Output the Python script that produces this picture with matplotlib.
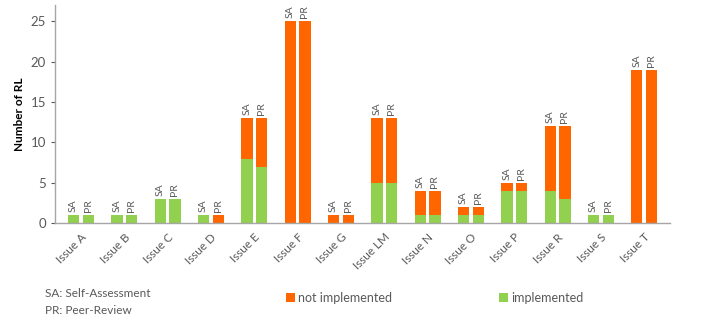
import numpy as np
import matplotlib.pyplot as plt

plt.rcParams['font.family'] = ['Lato', 'DejaVu Sans']

issues = ['Issue A', 'Issue B', 'Issue C', 'Issue D', 'Issue E', 'Issue F', 'Issue G',
          'Issue LM', 'Issue N', 'Issue O', 'Issue P', 'Issue R', 'Issue S', 'Issue T']

# self-assessment
sa_impl = [1, 1, 3, 1, 8, 0, 0, 5, 1, 1, 4, 4, 1, 0]
sa_not = [0, 0, 0, 0, 5, 25, 1, 8, 3, 1, 1, 8, 0, 19]
# peer-review
pr_impl = [1, 1, 3, 0, 7, 0, 0, 5, 1, 1, 4, 3, 1, 0]
pr_not = [0, 0, 0, 1, 6, 25, 1, 8, 3, 1, 1, 9, 0, 19]

GREEN = '#92D050'
ORANGE = '#FF6600'
GREY = '#595959'

fig = plt.figure(figsize=(7.23, 3.22), dpi=100)
ax = fig.add_axes([0.076, 0.307, 0.851, 0.677])

x = np.arange(len(issues))
w = 0.26
off = 0.17

for pos, impl, notimpl, tag in [(x - off, sa_impl, sa_not, 'SA'), (x + off, pr_impl, pr_not, 'PR')]:
    ax.bar(pos, impl, width=w, color=GREEN, label='implemented')
    ax.bar(pos, notimpl, width=w, bottom=impl, color=ORANGE, label='not implemented')
    for p, a, b in zip(pos, impl, notimpl):
        ax.text(p, a + b + 0.4, tag, rotation=90, ha='center', va='bottom',
                fontsize=7.5, color=GREY)

ax.set_xlim(-0.6, len(issues) - 0.4)
ax.set_ylim(0, 27)
ax.set_yticks([0, 5, 10, 15, 20, 25])
ax.set_xticks(x)
ax.set_xticklabels(issues, rotation=45, ha='right', rotation_mode='anchor')
ax.tick_params(axis='x', length=0, labelsize=8.5, colors=GREY, pad=6)
ax.tick_params(axis='y', length=3, labelsize=9.5, colors=GREY, width=0.8)
ax.set_ylabel('Number of RL', fontsize=8.5, fontweight='bold', color='black')

for s in ['top', 'right']:
    ax.spines[s].set_visible(False)
for s in ['left', 'bottom']:
    ax.spines[s].set_color('#A6A6A6')
    ax.spines[s].set_linewidth(1.0)

fig.text(0.062, 0.09, 'SA: Self-Assessment', fontsize=8.5, color=GREY, va='center')
fig.text(0.062, 0.035, 'PR: Peer-Review', fontsize=8.5, color=GREY, va='center')

handles, labels = ax.get_legend_handles_labels()
fig.legend([handles[1]], [labels[1]], loc='center left', bbox_to_anchor=(0.38, 0.075),
           frameon=False, fontsize=9, handlelength=0.7, handleheight=0.7,
           handletextpad=0.3, labelcolor=GREY)
fig.legend([handles[0]], [labels[0]], loc='center left', bbox_to_anchor=(0.675, 0.075),
           frameon=False, fontsize=9, handlelength=0.7, handleheight=0.7,
           handletextpad=0.3, labelcolor=GREY)

fig.savefig('out.png', dpi=100)
